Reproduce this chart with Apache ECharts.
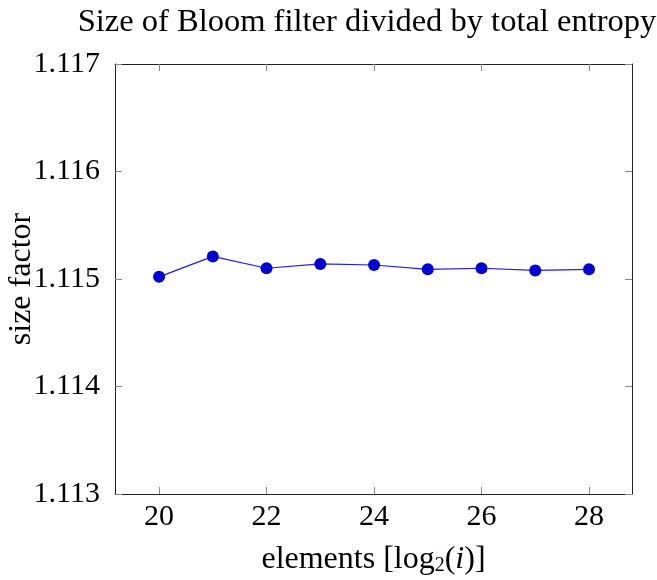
<!DOCTYPE html>
<html>
<head>
<meta charset="utf-8">
<script src="https://cdn.jsdelivr.net/npm/echarts@6/dist/echarts.min.js"></script>
<style>
  html, body { margin: 0; padding: 0; background: #fff; }
  #chart { width: 657px; height: 580px; }
</style>
</head>
<body>
<div id="chart"></div>
<script>
// Element counts (log2) and measured Bloom filter size factor
const elements = [20, 21, 22, 23, 24, 25, 26, 27, 28];
const sizeFactor = [1.11502, 1.11521, 1.11510, 1.11514, 1.11513, 1.11509, 1.11510, 1.11508, 1.11509];
const xTicks = [20, 22, 24, 26, 28];
const yTicks = [1.113, 1.114, 1.115, 1.116, 1.117];

const serif = '"Liberation Serif", "DejaVu Serif", serif';
const tickColor = '#888';

const chart = echarts.init(document.getElementById('chart'), null, { renderer: 'canvas' });

const xBase = {
  type: 'value', min: 19.18, max: 28.8,
  axisLine: { show: true, onZero: false, lineStyle: { color: '#222', width: 1 } },
  splitLine: { show: false }
};
const yBase = {
  type: 'value', min: 1.113, max: 1.117,
  axisLine: { show: true, onZero: false, lineStyle: { color: '#222', width: 1 } },
  splitLine: { show: false }
};

chart.setOption({
  animation: false,
  title: {
    text: 'Size of Bloom filter divided by total entropy',
    left: 362, top: 1, textAlign: 'center',
    textStyle: { fontFamily: serif, fontSize: 32.5, fontWeight: 'normal', color: '#000' }
  },
  grid: { left: 115, right: 25, top: 64, bottom: 86, containLabel: false, outerBoundsMode: 'none' },
  // Rotated y-axis title
  graphic: [{
    type: 'text',
    x: 22, y: 279,
    rotation: Math.PI / 2,
    style: {
      text: 'size factor',
      font: '32px ' + serif,
      fill: '#000',
      align: 'center',
      verticalAlign: 'middle'
    }
  }],
  xAxis: [
    Object.assign({}, xBase, {
      position: 'bottom',
      name: '{t|elements [log}{s|2}{t|(}{i|i}{t|)]}',
      nameLocation: 'middle', nameGap: 50,
      nameTextStyle: {
        rich: {
          t: { fontFamily: serif, fontSize: 32, color: '#000' },
          s: { fontFamily: serif, fontSize: 20, color: '#000', verticalAlign: 'bottom', padding: [12, 0, 0, 0] },
          i: { fontFamily: serif, fontSize: 32, fontStyle: 'italic', color: '#000' }
        }
      },
      axisTick: { show: true, inside: true, length: 7, customValues: xTicks, lineStyle: { color: tickColor } },
      axisLabel: { show: true, customValues: xTicks, margin: 8, fontFamily: serif, fontSize: 30, color: '#000' }
    }),
    Object.assign({}, xBase, {
      position: 'top',
      axisTick: { show: true, inside: true, length: 7, customValues: xTicks, lineStyle: { color: tickColor } },
      axisLabel: { show: false }
    })
  ],
  yAxis: [
    Object.assign({}, yBase, {
      position: 'left',
      axisTick: { show: true, inside: true, length: 7, customValues: yTicks, lineStyle: { color: tickColor } },
      axisLabel: {
        show: true, customValues: yTicks, margin: 15,
        fontFamily: serif, fontSize: 30, color: '#000',
        formatter: v => v.toFixed(3)
      }
    }),
    Object.assign({}, yBase, {
      position: 'right',
      axisTick: { show: true, inside: true, length: 7, customValues: yTicks, lineStyle: { color: tickColor } },
      axisLabel: { show: false }
    })
  ],
  series: [{
    type: 'line',
    xAxisIndex: 0, yAxisIndex: 0,
    data: elements.map((e, i) => [e, sizeFactor[i]]),
    symbol: 'circle', symbolSize: 12,
    itemStyle: { color: '#0000dd' },
    lineStyle: { color: '#1a1aff', width: 1.2 }
  }]
});
</script>
</body>
</html>
